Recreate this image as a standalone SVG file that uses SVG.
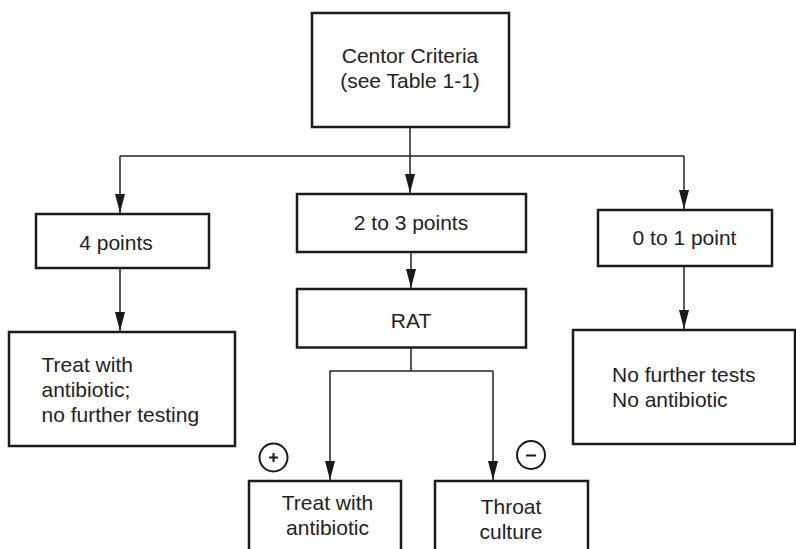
<svg xmlns="http://www.w3.org/2000/svg" width="796" height="549" viewBox="0 0 796 549">
  <style>
    .box { fill: #ffffff; stroke: #1a1a1a; stroke-width: 2.5; }
    .lbl { font-family: "Liberation Sans", Arial, Helvetica, sans-serif; font-size: 21px; fill: #222222; }
    .mid { text-anchor: middle; }
    .wire { fill: none; stroke: #222222; stroke-width: 1.5; }
    .arrow { fill: none; stroke: #222222; stroke-width: 1.5; marker-end: url(#head); }
    .sign { fill: none; stroke: #1a1a1a; stroke-width: 2; }
  </style>
  <defs>
    <marker id="head" markerUnits="userSpaceOnUse" markerWidth="20" markerHeight="10" refX="19" refY="5" orient="auto">
      <path d="M0,0 L19,5 L0,10 Z" fill="#1a1a1a"/>
    </marker>
  </defs>
  <rect width="796" height="549" fill="#ffffff"/>

  <g id="connectors">
    <path class="wire" d="M410,127 V156 M120,156 H684 M411,348 V371 M330,371 H493"/>
    <path class="arrow" d="M120,156 V213"/>
    <path class="arrow" d="M410,156 V193"/>
    <path class="arrow" d="M684,156 V209"/>
    <path class="arrow" d="M120,268 V331"/>
    <path class="arrow" d="M411,252 V288"/>
    <path class="arrow" d="M684,266 V329"/>
    <path class="arrow" d="M330,371 V480"/>
    <path class="arrow" d="M493,371 V480"/>
  </g>

  <g id="centor">
    <rect class="box" x="312" y="13" width="197" height="114"/>
    <text class="lbl mid" x="410" y="63">Centor Criteria</text>
    <text class="lbl mid" x="410" y="87.5">(see Table 1-1)</text>
  </g>

  <g id="four-points">
    <rect class="box" x="36" y="214" width="173" height="54"/>
    <text class="lbl mid" x="116" y="250">4 points</text>
  </g>

  <g id="two-three-points">
    <rect class="box" x="297" y="194" width="229" height="58"/>
    <text class="lbl mid" x="411" y="230">2 to 3 points</text>
  </g>

  <g id="zero-one-point">
    <rect class="box" x="598" y="210" width="174" height="56"/>
    <text class="lbl mid" x="684.5" y="245">0 to 1 point</text>
  </g>

  <g id="treat-no-testing">
    <rect class="box" x="9" y="332" width="226" height="114"/>
    <text class="lbl" x="41.5" y="371.5">Treat with</text>
    <text class="lbl" x="41.5" y="396.5">antibiotic;</text>
    <text class="lbl" x="41.5" y="421.5">no further testing</text>
  </g>

  <g id="rat">
    <rect class="box" x="297" y="289" width="229" height="58.5"/>
    <text class="lbl mid" x="411" y="327.5">RAT</text>
  </g>

  <g id="no-further-tests">
    <rect class="box" x="573" y="330" width="222" height="114"/>
    <text class="lbl" x="612" y="381.5">No further tests</text>
    <text class="lbl" x="612" y="406.5">No antibiotic</text>
  </g>

  <g id="treat-antibiotic">
    <rect class="box" x="249" y="481" width="152" height="80"/>
    <text class="lbl mid" x="327.5" y="510">Treat with</text>
    <text class="lbl mid" x="327.5" y="534.5">antibiotic</text>
  </g>

  <g id="throat-culture">
    <rect class="box" x="435" y="481" width="153" height="80"/>
    <text class="lbl mid" x="511" y="514">Throat</text>
    <text class="lbl mid" x="511" y="538.5">culture</text>
  </g>

  <g id="positive">
    <circle class="sign" cx="273.5" cy="457.5" r="14"/>
    <path class="sign" d="M269,457.5 H278 M273.5,453 V462"/>
  </g>

  <g id="negative">
    <circle class="sign" cx="531" cy="455" r="14"/>
    <path class="sign" d="M526,455.5 H536" stroke-width="2.5"/>
  </g>
</svg>
